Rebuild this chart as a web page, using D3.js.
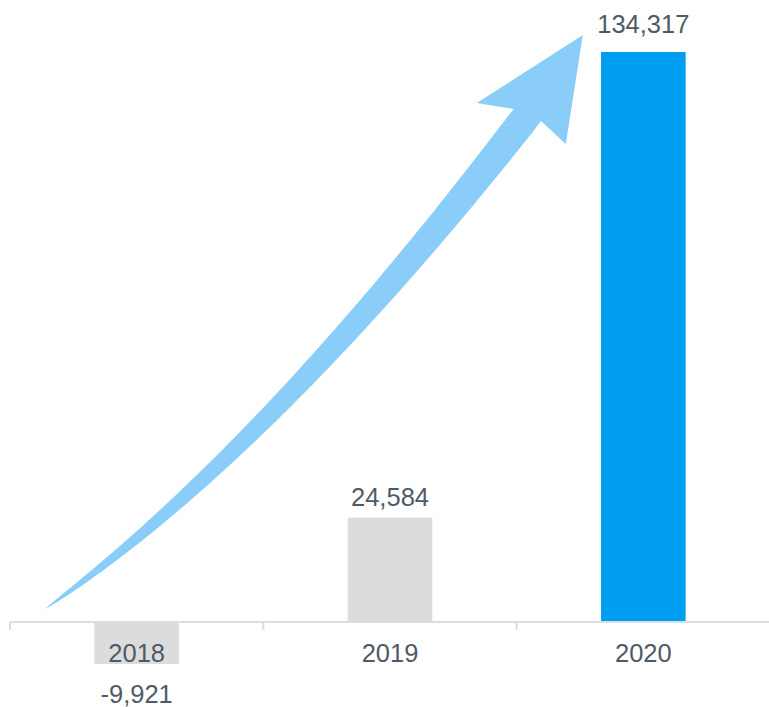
<!DOCTYPE html>
<html>
<head>
<meta charset="utf-8">
<script src="https://cdn.jsdelivr.net/npm/d3@7"></script>
<style>
  html, body { margin: 0; padding: 0; background: #ffffff; }
  svg { display: block; }
  text { font-family: "Liberation Sans", Arial, sans-serif; }
</style>
</head>
<body>
<svg id="chart" width="769" height="707"></svg>
<script>
// Yearly result per year
const years = ["2018", "2019", "2020"];
const values = [-9921, 24584, 134317];
const barColors = ["#dcdcdc", "#dcdcdc", "#009ef0"];

const W = 769, H = 707;
const svg = d3.select("#chart");

const x = d3.scaleBand().domain(years).range([10, 770]).paddingInner(0).paddingOuter(0);
const barW = x.bandwidth() * 0.334;
const y = d3.scaleLinear().domain([0, d3.max(values)]).range([622, 52]);
// thousands separator, plain hyphen for negatives
const fmt = v => d3.format(",")(v).replace("\u2212", "-");
const textColor = "#4f5a66";

// Trend arrow (drawn behind the bars)
(function drawArrow() {
  const tail = [x.range()[0] + 35, y(0) - 13];
  const end = [x(years[2]) + x.bandwidth() / 2 - 116, y(d3.max(values)) + 63];
  const ctrl = [x(years[0]) + x.bandwidth() / 2 + 129, y(0) - 168];
  const endW = 29.6;
  const N = 80;
  const left = [], right = [];
  for (let i = 0; i <= N; i++) {
    const t = i / N, mt = 1 - t;
    const px = mt * mt * tail[0] + 2 * mt * t * ctrl[0] + t * t * end[0];
    const py = mt * mt * tail[1] + 2 * mt * t * ctrl[1] + t * t * end[1];
    let dx = 2 * mt * (ctrl[0] - tail[0]) + 2 * t * (end[0] - ctrl[0]);
    let dy = 2 * mt * (ctrl[1] - tail[1]) + 2 * t * (end[1] - ctrl[1]);
    const len = Math.hypot(dx, dy); dx /= len; dy /= len;
    const w = endW * Math.pow(t, 0.65) / 2;
    left.push([px + dy * w, py - dx * w]);
    right.push([px - dy * w, py + dx * w]);
  }
  // head frame: axis a, side s (towards the lower-right barb)
  const a = [0.418, -0.908], s = [0.908, 0.418];
  const P = (along, side) => [end[0] + a[0] * along + s[0] * side, end[1] + a[1] * along + s[1] * side];
  left[N] = P(-0.2, -14.8);
  right[N] = P(0.3, 14.8);
  const head = [P(-10.2, -50.9), P(95.8, 17), P(-10.2, 47.1)];
  const pts = left.concat(head, right.slice().reverse());
  svg.append("path")
    .attr("d", d3.line()(pts) + "Z")
    .attr("fill", "#8acdf8");
})();

// Bars
svg.append("g").selectAll("rect")
  .data(years.map((yr, i) => ({ yr, v: values[i], c: barColors[i] })))
  .join("rect")
  .attr("x", d => x(d.yr) + (x.bandwidth() - barW) / 2)
  .attr("y", d => Math.min(y(d.v), y(0)))
  .attr("width", barW)
  .attr("height", d => Math.abs(y(d.v) - y(0)))
  .attr("fill", d => d.c);

// Category axis
const axis = svg.append("g");
axis.append("line")
  .attr("x1", x.range()[0]).attr("x2", W)
  .attr("y1", y(0)).attr("y2", y(0))
  .attr("stroke", "#d6dee8").attr("stroke-width", 2);
const tickXs = years.map(yr => x(yr)).concat([x.range()[1]]);
axis.selectAll("line.tick")
  .data(tickXs)
  .join("line")
  .attr("class", "tick")
  .attr("x1", d => d).attr("x2", d => d)
  .attr("y1", y(0)).attr("y2", y(0) + 8)
  .attr("stroke", "#d6dee8").attr("stroke-width", 2);
axis.selectAll("text")
  .data(years)
  .join("text")
  .attr("x", d => x(d) + x.bandwidth() / 2)
  .attr("y", y(0) + 40)
  .attr("text-anchor", "middle")
  .attr("font-size", 25.5)
  .attr("fill", textColor)
  .text(d => d);

// Value labels
const maxV = d3.max(values);
svg.append("g").selectAll("text")
  .data(years.map((yr, i) => ({ yr, v: values[i] })))
  .join("text")
  .attr("x", d => x(d.yr) + x.bandwidth() / 2)
  .attr("y", d => d.v < 0 ? y(d.v) + 39 : y(d.v) - (d.v === maxV ? 19 : 12))
  .attr("text-anchor", "middle")
  .attr("font-size", 25.5)
  .attr("fill", textColor)
  .text(d => fmt(d.v));
</script>
</body>
</html>
